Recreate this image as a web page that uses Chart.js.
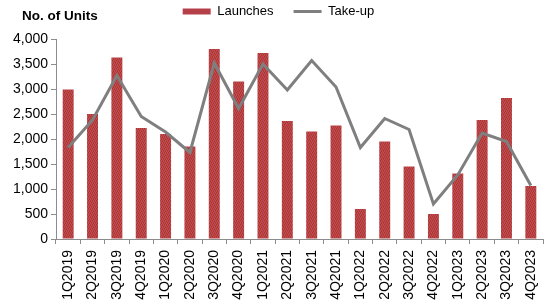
<!DOCTYPE html>
<html>
<head>
<meta charset="utf-8">
<script src="https://cdn.jsdelivr.net/npm/chart.js@4.4.1/dist/chart.umd.min.js"></script>
<style>
    html, body { margin: 0; padding: 0; background: #fff; }
    #wrap { position: relative; width: 550px; height: 307px; }
    #titre {
        position: absolute; left: 22px; top: 8px;
        font: bold 13.5px "Liberation Sans", Arial, sans-serif; color: #000;
    }
</style>
</head>
<body>
<div id="wrap">
    <canvas id="chart" width="550" height="307"></canvas>
    <div id="titre">No. of Units</div>
</div>
<script>
// data
const quarters = ['1Q2019', '2Q2019', '3Q2019', '4Q2019', '1Q2020', '2Q2020', '3Q2020', '4Q2020',
    '1Q2021', '2Q2021', '3Q2021', '4Q2021', '1Q2022', '2Q2022', '3Q2022', '4Q2022',
    '1Q2023', '2Q2023', '3Q2023', '4Q2023'];
const launches = [2990, 2500, 3630, 2220, 2100, 1850, 3800, 3150, 3720, 2360,
    2150, 2270, 600, 1950, 1450, 500, 1310, 2380, 2820, 1060];
const takeUp = [1830, 2380, 3270, 2450, 2140, 1730, 3520, 2610, 3500, 2980,
    3570, 3040, 1830, 2410, 2190, 700, 1280, 2120, 1950, 1070];
const yTicks = { min: 0, max: 4000, step: 500 };

const FONT = '"Liberation Sans", Arial, sans-serif';

// speckled red fill like the original bars
function makeBarPattern() {
    const c = document.createElement('canvas');
    c.width = 4; c.height = 4;
    const g = c.getContext('2d');
    const cols = ['#a9332f', '#c24b4b', '#b23a57', '#bf4f3b'];
    for (let y = 0; y < 4; y++) {
        for (let x = 0; x < 4; x++) {
            g.fillStyle = cols[(x + 2 * y + (y >> 1)) % 4];
            g.fillRect(x, y, 1, 1);
        }
    }
    return g.createPattern(c, 'repeat');
}

// nudge the legend up, like the original
const legendNudge = {
    id: 'legendNudge',
    afterLayout(chart) {
        const lg = chart.legend;
        if (!lg) return;
        lg.top -= 15; lg.bottom -= 15;
        lg.left += 3; lg.right += 3;
    }
};

document.addEventListener('DOMContentLoaded', () => {
    const ctx = document.getElementById('chart').getContext('2d');
    const barFill = makeBarPattern();

    new Chart(ctx, {
        type: 'bar',
        data: {
            labels: quarters,
            datasets: [{
                type: 'bar',
                label: 'Launches',
                data: launches,
                backgroundColor: barFill,
                borderWidth: 0,
                barPercentage: 0.9,
                categoryPercentage: 0.5,
                order: 1
            }, {
                type: 'line',
                label: 'Take-up',
                data: takeUp,
                borderColor: '#7f7f7f',
                backgroundColor: '#7f7f7f',
                borderWidth: 3,
                pointRadius: 0,
                tension: 0,
                order: 0
            }]
        },
        options: {
            responsive: false,
            animation: false,
            layout: { padding: { left: 8, right: 7, top: 0, bottom: 0 } },
            plugins: {
                tooltip: { enabled: false },
                legend: {
                    position: 'top',
                    maxHeight: 39,
                    labels: {
                        font: { family: FONT, size: 13 },
                        color: '#000',
                        boxWidth: 28,
                        boxHeight: 6,
                        padding: 20,
                        usePointStyle: true,
                        pointStyleWidth: 28,
                        generateLabels: (chart) => chart.data.datasets.map((ds, i) => ({
                            text: ds.label,
                            datasetIndex: i,
                            fillStyle: ds.type === 'bar' ? '#b5404a' : '#7f7f7f',
                            strokeStyle: ds.type === 'bar' ? '#b5404a' : '#7f7f7f',
                            lineWidth: ds.type === 'bar' ? 0 : 3,
                            pointStyle: ds.type === 'bar' ? 'rect' : 'line',
                            fontColor: '#000',
                            hidden: false
                        }))
                    }
                }
            },
            scales: {
                x: {
                    grid: { display: true, drawOnChartArea: false, color: '#8c8c8c', tickLength: 5, offset: true },
                    border: { color: '#8c8c8c', width: 1 },
                    ticks: {
                        font: { family: FONT, size: 14 },
                        color: '#000',
                        minRotation: 90,
                        maxRotation: 90,
                        autoSkip: false,
                        padding: 6
                    },
                    afterFit: (s) => { s.height = 68; s.paddingLeft = 0; s.paddingRight = 0; }
                },
                y: {
                    min: yTicks.min,
                    max: yTicks.max,
                    grid: { display: true, drawOnChartArea: false, color: '#8c8c8c', tickLength: 5 },
                    border: { color: '#8c8c8c', width: 1 },
                    ticks: {
                        stepSize: yTicks.step,
                        font: { family: FONT, size: 14 },
                        color: '#000',
                        padding: 3
                    },
                    afterFit: (s) => { s.width = 48; }
                }
            }
        },
        plugins: [legendNudge]
    });
});
</script>
</body>
</html>
